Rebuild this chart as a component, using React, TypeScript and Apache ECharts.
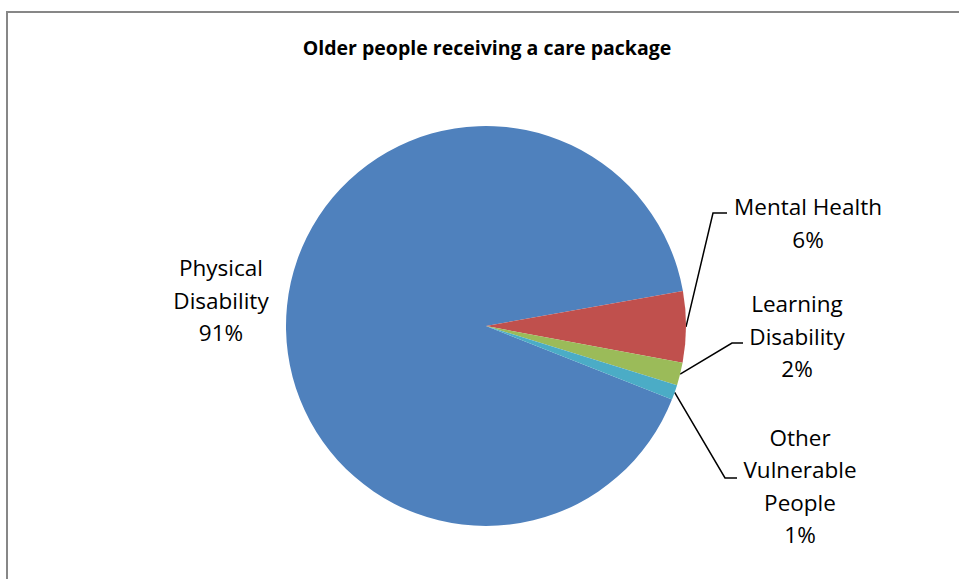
import React, { useEffect, useRef } from "react";
import * as echarts from "echarts";

const TITLE = "Older people receiving a care package";
const categories = ["Physical\nDisability", "Mental Health", "Learning\nDisability", "Other\nVulnerable\nPeople"];
const values = [91.2, 5.75, 1.83, 1.22];
const colors = ["#4F81BD", "#C0504D", "#9BBB59", "#4BACC6"];

// label placement (centre of label block) and leader-line elbow, by slice
const labelCenters: [number, number][] = [
  [221, 300],
  [808, 223],
  [797, 336],
  [800, 486],
];
const elbows: ([number, number][] | null)[] = [
  null,
  [[713, 213], [727, 213]],
  [[732, 343], [743, 343]],
  [[725, 478], [737, 478]],
];

export default function App() {
  const ref = useRef<HTMLDivElement>(null);
  useEffect(() => {
    document.body.style.margin = "0";
    const chart = echarts.init(ref.current!, undefined, { renderer: "svg" });
    const font = "'Open Sans', 'Noto Sans', sans-serif";
    chart.setOption({
      animation: false,
      backgroundColor: "#ffffff",
      graphic: [
        {
          type: "rect",
          shape: { x: 7, y: 12, width: 1000, height: 1000 },
          style: { fill: "none", stroke: "#878787", lineWidth: 2 },
          z: 0,
        },
        {
          type: "text",
          x: 487,
          y: 47,
          style: {
            text: TITLE,
            align: "center",
            verticalAlign: "middle",
            fontFamily: font,
            fontWeight: "bold",
            fontSize: 19.5,
            fill: "#000000",
          },
        },
      ],
      series: [
        {
          type: "pie",
          center: [486, 326],
          radius: 200,
          startAngle: -21.6,
          clockwise: true,
          data: categories.map((name, i) => ({
            name,
            value: values[i],
            itemStyle: { color: colors[i] },
            labelLine: { show: i !== 0 },
          })),
          itemStyle: { borderColor: "#ffffff", borderWidth: 0 },
          label: {
            show: true,
            position: "outside",
            fontFamily: font,
            fontSize: 22.5,
            lineHeight: 32.5,
            color: "#000000",
            align: "center",
            formatter: (p: any) => `${p.name}\n${Math.round(p.percent)}%`,
          },
          labelLine: {
            show: true,
            lineStyle: { color: "#000000", width: 1.5 },
          },
          labelLayout: (params: any) => {
            const i = params.dataIndex;
            const c = labelCenters[i];
            const out: any = { x: c[0], y: c[1], align: "center", verticalAlign: "middle" };
            const e = elbows[i];
            if (e && params.labelLinePoints) {
              out.labelLinePoints = [params.labelLinePoints[0], e[0], e[1]];
            }
            return out;
          },
          emphasis: { disabled: true },
        },
      ],
    });
    return () => chart.dispose();
  }, []);
  return <div ref={ref} style={{ width: 959, height: 579 }} />;
}
